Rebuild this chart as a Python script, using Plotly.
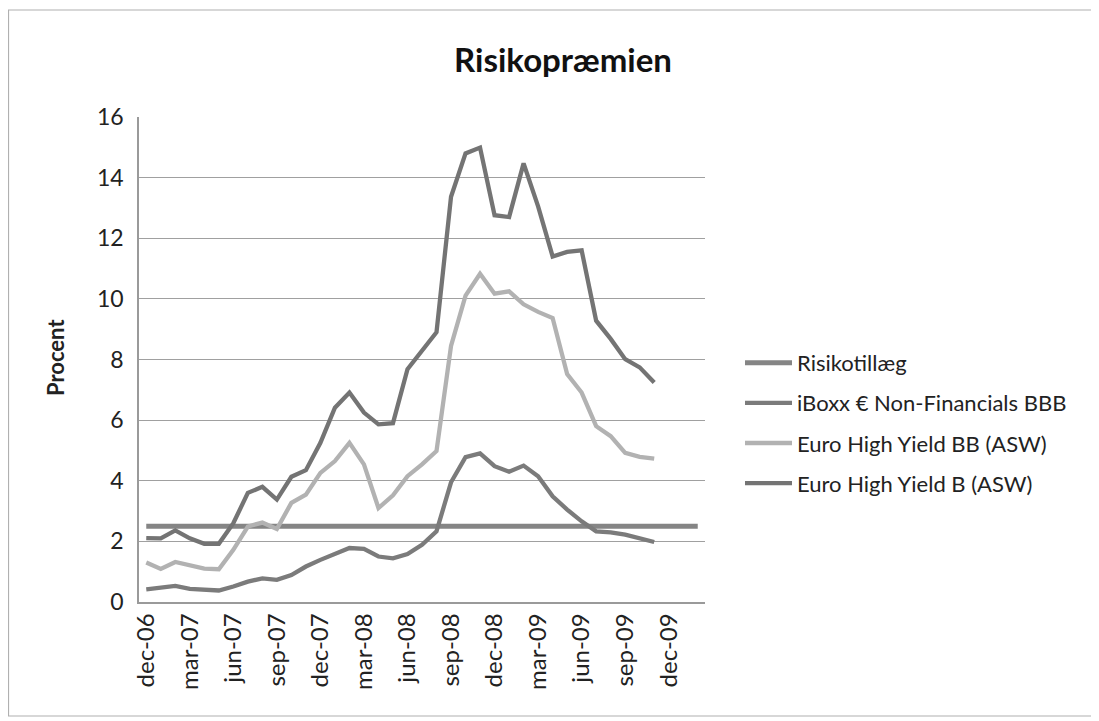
import plotly.graph_objects as go

months = ["jan", "feb", "mar", "apr", "maj", "jun", "jul", "aug", "sep", "okt", "nov", "dec"]
# categories dec-06 .. feb-10
categories = ["dec-06"] + [f"{m}-{y:02d}" for y in (7, 8, 9) for m in months] + ["jan-10", "feb-10"]

risikotillaeg = [2.5] * len(categories)

iboxx_bbb = [0.42, 0.49, 0.53, 0.43, 0.40, 0.38, 0.51, 0.67, 0.78, 0.73, 0.89, 1.17,
             1.39, 1.59, 1.78, 1.75, 1.50, 1.44, 1.58, 1.89, 2.33, 3.95, 4.78, 4.90,
             4.48, 4.30, 4.50, 4.15, 3.49, 3.05, 2.66, 2.33, 2.30, 2.22, 2.09, 1.98]

hy_bb = [1.30, 1.09, 1.32, 1.21, 1.10, 1.08, 1.72, 2.49, 2.62, 2.41, 3.27, 3.54,
         4.26, 4.65, 5.25, 4.54, 3.10, 3.52, 4.15, 4.54, 4.98, 8.45, 10.11, 10.83,
         10.17, 10.25, 9.82, 9.57, 9.37, 7.52, 6.91, 5.80, 5.47, 4.92, 4.79, 4.73]

hy_b = [2.11, 2.10, 2.36, 2.10, 1.92, 1.92, 2.60, 3.60, 3.80, 3.38, 4.13, 4.35,
        5.25, 6.41, 6.91, 6.25, 5.86, 5.90, 7.68, 8.29, 8.90, 13.37, 14.80, 14.99,
        12.76, 12.70, 14.47, 13.05, 11.40, 11.55, 11.60, 9.28, 8.68, 8.01, 7.74, 7.24]

tick_labels = categories[0:37:3]

series = [
    ("Risikotillæg", risikotillaeg, "#858585", 5),
    ("iBoxx € Non-Financials BBB", iboxx_bbb, "#7b7b7b", 4.3),
    ("Euro High Yield BB (ASW)", hy_bb, "#b2b2b2", 4.3),
    ("Euro High Yield B (ASW)", hy_b, "#747474", 4.3),
]

font = "Lato, 'Open Sans', sans-serif"
txt = "#222222"

# geometry (figure px)
L, T, PW, PH = 131, 109, 566, 485
W, H = 1091, 713

fig = go.Figure()
for i, (name, vals, col, w) in enumerate(series):
    fig.add_trace(go.Scatter(
        x=categories[:len(vals)], y=vals, mode="lines", name=name,
        line=dict(color=col, width=w), legendgroup=f"g{i}",
    ))

fig.update_layout(
    width=W, height=H,
    margin=dict(l=L, r=W - L - PW, t=T, b=H - T - PH),
    paper_bgcolor="white", plot_bgcolor="white",
    font=dict(family=font, size=23, color=txt),
    title=dict(text="<b>Risikopræmien</b>", x=555 / W, xanchor="center",
               y=1 - 52 / H, yanchor="middle",
               font=dict(family=font, size=33, color="#111111")),
    showlegend=True,
    legend=dict(x=(732 - L) / PW, xanchor="left", y=(T + PH - 334) / PH, yanchor="top",
                font=dict(family=font, size=22, color=txt), itemwidth=47,
                tracegroupgap=8.5, bgcolor="rgba(0,0,0,0)"),
    xaxis=dict(type="category", categoryorder="array", categoryarray=categories,
               range=[-0.5, len(categories) - 0.5],
               tickmode="array", tickvals=tick_labels, ticktext=tick_labels,
               tickangle=-90, showgrid=False, showline=True, linecolor="#9a9a9a",
               linewidth=1.5, ticks="", tickfont=dict(size=24, color=txt),
               mirror=False),
    yaxis=dict(range=[0, 16], dtick=2, showgrid=True, gridcolor="#a0a0a0", gridwidth=1.3,
               showline=True, linecolor="#9a9a9a", linewidth=1.5, ticks="",
               ticklabelstandoff=9,
               zeroline=False, tickfont=dict(size=23, color=txt)),
    annotations=[dict(text="<b>Procent</b>", xref="paper", yref="paper",
                      x=(47 - L) / PW, y=(T + PH - 350) / PH, xanchor="center",
                      yanchor="middle", textangle=-90, showarrow=False,
                      font=dict(family=font, size=22, color=txt))],
    shapes=[dict(type="rect", xref="paper", yref="paper",
                 x0=(0.5 - L) / PW, x1=(1087 - L) / PW,
                 y0=(T + PH - 708) / PH, y1=(T + PH - 2) / PH,
                 line=dict(color="#b0b0b0", width=1.2), fillcolor="rgba(0,0,0,0)",
                 layer="below")],
)

fig.write_html("out.html")
